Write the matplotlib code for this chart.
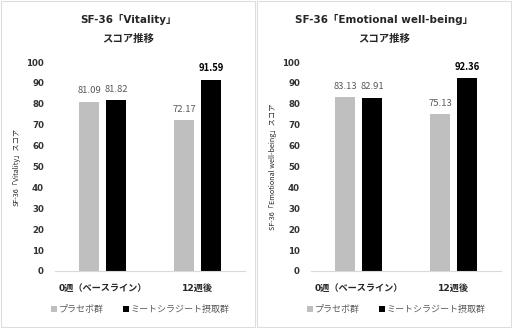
import matplotlib
matplotlib.use("Agg")
import matplotlib.pyplot as plt
from matplotlib.patches import Rectangle
import numpy as np

plt.rcParams['font.family'] = ['Noto Sans CJK JP', 'DejaVu Sans']
latin = ['DejaVu Sans', 'Noto Sans CJK JP']

# データ
categories = ["0週（ベースライン）", "12週後"]
groups = ["プラセボ群", "ミートシラジート摂取群"]
vitality_placebo = [81.09, 72.17]
vitality_msj = [81.82, 91.59]
emotional_placebo = [83.13, 75.13]
emotional_msj = [82.91, 92.36]
titles = ["SF-36「Vitality」\nスコア推移", "SF-36「Emotional well-being」\nスコア推移"]
ylabels = ["SF-36「Vitality」スコア", "SF-36「Emotional well-being」スコア"]
yticks = list(range(0, 101, 10))

gray = "#BFBFBF"
black = "#000000"
textgray = "#595959"

W, H = 512, 328
fig = plt.figure(figsize=(W / 100, H / 100), dpi=100)

panels = [(0, vitality_placebo, vitality_msj), (256, emotional_placebo, emotional_msj)]
for i, (ox, placebo, msj) in enumerate(panels):
    # パネルの枠
    fig.patches.append(Rectangle(((ox + 1) / W, 1 / H), 253.5 / W, 326 / H,
                                 transform=fig.transFigure, fill=False,
                                 edgecolor="#DDDDDD", linewidth=0.8))
    ax = fig.add_axes([(ox + 55) / W, 1 - 271 / H, 190 / W, 209 / H])
    x = np.arange(len(categories))
    ax.bar(x - 0.142, placebo, width=0.22, color=gray, label=groups[0])
    ax.bar(x + 0.142, msj, width=0.22, color=black, label=groups[1])
    ax.set_xlim(-0.5, 1.5)
    ax.set_ylim(0, 100)
    ax.set_yticks(yticks)
    ax.set_yticklabels([str(t) for t in yticks], family=latin, fontsize=6.2,
                       fontweight="bold", color="#333333")
    ax.set_xticks(x)
    ax.set_xticklabels(categories, family=latin, fontsize=6.6, fontweight="bold",
                       color="#262626")
    ax.tick_params(length=0)
    ax.tick_params(axis="y", pad=8)
    ax.tick_params(axis="x", pad=9)
    for s in ["top", "right", "left"]:
        ax.spines[s].set_visible(False)
    ax.spines["bottom"].set_color("#D9D9D9")
    ax.spines["bottom"].set_linewidth(0.8)
    ax.set_ylabel(ylabels[i], fontsize=5.2, color="#262626", labelpad=4)

    # データラベル
    for j, v in enumerate(placebo):
        ax.text(x[j] - 0.142, v + 3, f"{v:.2f}", ha="center", va="bottom",
                fontsize=6.8, color=textgray)
    for j, v in enumerate(msj):
        last = j == len(msj) - 1
        ax.text(x[j] + 0.142, v + 3, f"{v:.2f}", ha="center", va="bottom",
                fontsize=6.8, color=black if last else textgray,
                fontweight="bold" if last else "normal")

    fig.text((ox + 128) / W, 1 - 28.5 / H, titles[i], ha="center", va="center",
             family=latin, fontsize=7.5, fontweight="bold", color="#262626",
             linespacing=2.1)

    ax.legend(loc="center", bbox_to_anchor=(0.45, -0.185), ncol=2, frameon=False,
              fontsize=6.5, labelcolor=textgray, handlelength=0.6, handleheight=0.6,
              handletextpad=0.2, columnspacing=2.2)

fig.savefig("out.png", dpi=100)
